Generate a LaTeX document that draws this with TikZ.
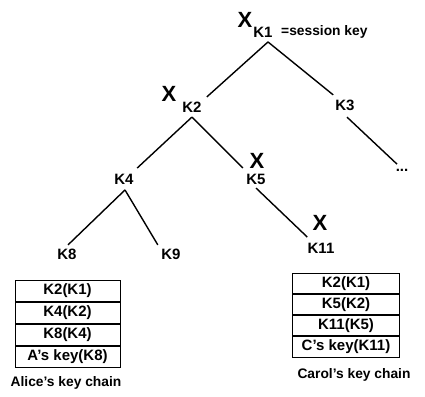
\documentclass[tikz,border=0pt]{standalone}
\usepackage{fontspec}
\setmainfont{Liberation Sans}
\begin{document}
\begin{tikzpicture}[x=1pt,y=-1pt,
  lbl/.style={inner sep=1pt, font=\fontsize{15}{17}\selectfont\bfseries},
  xsign/.style={inner sep=0pt, font=\fontsize{22}{24}\selectfont\bfseries},
  edge/.style={line width=1.4pt},
  chain/.style={draw, line width=1pt, inner sep=0pt,
    font=\fontsize{15}{17}\selectfont\bfseries},
  caption/.style={inner sep=0pt, font=\fontsize{13.8}{16}\selectfont\bfseries}]
\useasboundingbox (0,0) rectangle (425,396);

% key tree
\node[xsign] (x1) at (245,20) {X};
\node[lbl] (k1) at (263,32) {K1};
\node[lbl, anchor=west, font=\fontsize{13.8}{16}\selectfont\bfseries] (sk) at (280,32) {=session key};

\node[xsign] (x2) at (169,94) {X};
\node[lbl] (k2) at (192,107) {K2};
\node[lbl] (k3) at (345,105) {K3};

\node[lbl] (k4) at (124,179) {K4};
\node[xsign] (x5) at (257,161) {X};
\node[lbl] (k5) at (256,179) {K5};
\node[lbl, anchor=base] (dots) at (402,171) {...};

\node[lbl] (k8) at (67,254) {K8};
\node[lbl] (k9) at (171,254) {K9};
\node[xsign] (x11) at (320,223) {X};
\node[lbl] (k11) at (321,248) {K11};

% tree edges (shifts are in canvas units: positive yshift moves up)
\draw[edge] ([xshift=5pt,yshift=-3.6pt]k1.south) -- ([xshift=4pt,yshift=3.6pt]k2.north east);
\draw[edge] ([xshift=5pt,yshift=-3.6pt]k1.south) -- ([xshift=-1pt,yshift=3.6pt]k3.north west);
\draw[edge] ([yshift=-3.6pt]k2.south) -- ([xshift=2.4pt,yshift=4.6pt]k4.north east);
\draw[edge] ([yshift=-3.6pt]k2.south) -- ([xshift=-2.4pt,yshift=4.6pt]k5.north west);
\draw[edge] ([xshift=2pt,yshift=-5.6pt]k3.south) -- ([xshift=2.5pt,yshift=3.4pt]dots.north west);
\draw[edge] ([xshift=1pt,yshift=-4.6pt]k4.south) -- ([xshift=1pt,yshift=2.6pt]k8.north);
\draw[edge] ([xshift=1pt,yshift=-4.6pt]k4.south) -- ([xshift=-2.4pt,yshift=2.6pt]k9.north west);
\draw[edge] ([yshift=-2.6pt]k5.south) -- ([xshift=0.8pt,yshift=4.6pt]k11.north west);

% Alice's key chain
\begin{scope}[every node/.append style={chain, minimum width=105pt, minimum height=21pt}]
\node (a1) at (67.5,290.5) {K2(K1)};
\node[anchor=north] (a2) at (a1.south) {K4(K2)};
\node[anchor=north] (a3) at (a2.south) {K8(K4)};
\node[anchor=north] (a4) at (a3.south) {A's key(K8)};
\end{scope}
\node[caption] (ac) at (66,383) {Alice's key chain};

% Carol's key chain
\begin{scope}[every node/.append style={chain, minimum width=107pt, minimum height=20.3pt}]
\node (c1) at (346,283.2) {K2(K1)};
\node[anchor=north] (c2) at (c1.south) {K5(K2)};
\node[anchor=north] (c3) at (c2.south) {K11(K5)};
\node[anchor=north] (c4) at (c3.south) {C's key(K11)};
\end{scope}
\node[caption] (cc) at (354,375) {Carol's key chain};
\end{tikzpicture}
\end{document}
